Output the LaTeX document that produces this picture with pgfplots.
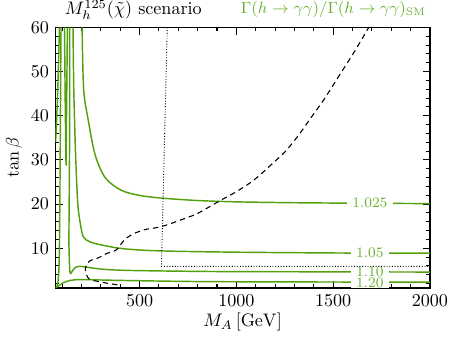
\documentclass[border=0pt]{standalone}
\usepackage{pgfplots}
\pgfplotsset{compat=1.18}
\definecolor{lgreen}{RGB}{82,160,12}
\definecolor{tgreen}{RGB}{104,178,48}

\begin{document}
\begin{tikzpicture}
\begin{axis}[
    name=ax,
    width=207pt, height=144pt, scale only axis,
    xmin=65, xmax=2000, ymin=1, ymax=60,
    xtick={500,1000,1500,2000},
    minor xtick={100,200,...,2000},
    ytick={10,20,...,60},
    minor ytick={2,4,...,60},
    /pgf/number format/1000 sep={},
    tick pos=both, tick align=inside,
    major tick length=4pt, minor tick length=2.2pt,
    every tick/.style={black, line width=0.6pt},
    axis line style={line width=0.9pt},
    xlabel={$M_A\,[\mathrm{GeV}]$},
    ylabel={$\tan\beta$},
    xlabel style={yshift=3pt},
    ylabel style={yshift=-2pt},
    clip=true,
]
% Gamma ratio contours
\addplot[lgreen, line width=0.8pt, smooth, tension=0.5] coordinates {
(203,60) (211,46) (236,38.7) (270,31.2) (322,26) (406,23.1) (508,21.9)
(628,21.3) (800,20.8) (1000,20.5) (1300,20.3) (1600,20.2) (2000,20.1)};
\addplot[lgreen, line width=0.8pt, smooth, tension=0.5] coordinates {
(156,60) (160,46) (168,33) (175,25) (182,19.3) (194,15.5) (209,12.6)
(240,11.5) (296,10.8) (413,9.9) (600,9.4) (1000,9.1) (1600,8.9) (2000,8.9)};
\addplot[lgreen, line width=0.8pt, smooth, tension=0.5] coordinates {
(139,60) (139,40) (137,25) (135,12.6) (136,8.9) (141,4.4) (158,5.2)
(175,5.8) (192,5.9) (220,5.75) (296,5.3) (413,5.0) (700,4.8) (1000,4.7) (2000,4.6)};
\addplot[lgreen, line width=0.8pt, smooth, tension=0.5] coordinates {
(65,1.05) (80,1.4) (95,1.9) (107,2.2) (140,2.7) (192,2.9) (300,2.8)
(413,2.7) (700,2.5) (1000,2.4) (2000,2.3)};
\addplot[lgreen, line width=0.8pt, smooth, tension=0.5] coordinates {
(72,1.2) (80,3) (85,8) (88,20) (91,40) (94,60)};
\addplot[lgreen, line width=0.8pt, smooth, tension=0.5] coordinates {
(66,34) (74,42) (80,50) (86,60)};
\addplot[lgreen, line width=0.8pt] coordinates {
(112,60) (116,42) (120,28.7) (123,42) (127,60)};
% contour labels
\node[fill=white, inner xsep=3pt, inner ysep=0.5pt, text=tgreen, font=\footnotesize] at (axis cs:1690,20.2) {1.025};
\node[fill=white, inner xsep=3pt, inner ysep=0.5pt, text=tgreen, font=\footnotesize] at (axis cs:1690,8.9) {1.05};
\node[fill=white, inner xsep=3pt, inner ysep=0pt, text=tgreen, font=\footnotesize] at (axis cs:1690,4.6) {1.10};
\node[fill=white, inner xsep=3pt, inner ysep=0pt, text=tgreen, font=\footnotesize] at (axis cs:1690,2.1) {1.20};
% dotted boundary
\addplot[black, densely dotted, line width=0.5pt] coordinates {
(643,60) (613,5.9) (2000,5.9)};
% dashed boundary
\addplot[black, dash pattern=on 3pt off 2.2pt, line width=0.6pt, smooth, tension=0.4] coordinates {
(385,1.7) (330,2.1) (270,2.6) (240,3.0) (225,4.0) (220,5.5) (232,6.7)
(250,7.3) (286,7.8) (330,8.8) (379,9.6) (424,12) (470,13.3) (526,14.2)
(580,14.6) (636,15.2) (700,16.2) (796,17.8) (917,20.8) (1000,22.8)
(1087,25.3) (1170,28.5) (1255,32) (1320,35.5) (1383,39.4) (1450,43.5)
(1530,49) (1610,54.5) (1684,60)};
\end{axis}
% titles
\node[anchor=south west, inner sep=0pt] at ([xshift=5pt, yshift=4pt]ax.north west) {$M_h^{125}(\tilde\chi)$ scenario};
\node[anchor=south east, inner sep=0pt, text=tgreen, font=\small] at ([xshift=-2pt, yshift=5pt]ax.north east) {$\Gamma(h\to\gamma\gamma)/\Gamma(h\to\gamma\gamma)_{\mathrm{SM}}$};
\end{tikzpicture}
\end{document}
